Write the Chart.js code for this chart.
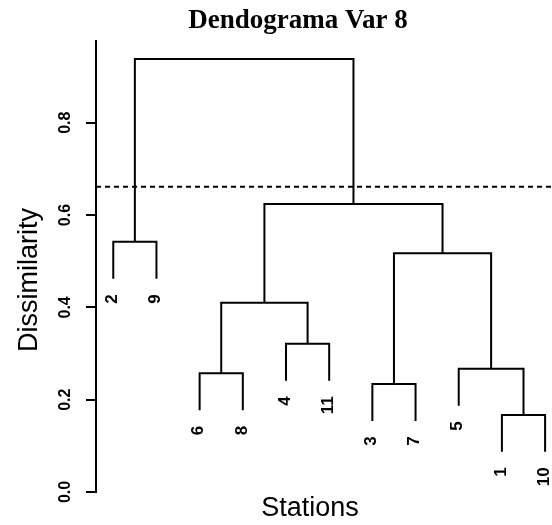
<!DOCTYPE html>
<html>
<head>
<meta charset="utf-8">
<script src="https://cdn.jsdelivr.net/npm/chart.js@4/dist/chart.umd.min.js"></script>
<style>
  html, body { margin: 0; padding: 0; background: #fff; }
  canvas { display: block; }
</style>
</head>
<body>
<canvas id="dendro" width="552" height="525"></canvas>
<script>
// Station order along the horizontal axis (leaf order of the tree)
const leafOrder = [2, 9, 6, 8, 4, 11, 3, 7, 5, 1, 10];

// hclust-style merge table: negative = station number, positive = earlier merge (1-based)
const mergeLeft   = [-1, -3, -6, -5, -4, 3, 2, -2, 6, 8];
const mergeRight  = [-10, -7, -8, 1, -11, 5, 4, -9, 7, 9];
const mergeHeight = [0.167, 0.234, 0.257, 0.267, 0.321, 0.410, 0.517, 0.542, 0.624, 0.938];

// Cut level drawn as a dotted line
const cutHeight = 0.661;

// How far each leaf hangs below the merge it belongs to
const hang = 0.08;

// Dissimilarity axis ticks
const yTicks = [0.0, 0.2, 0.4, 0.6, 0.8];

// ---- derive node positions from the merge table ----
const leafPos = {};
leafOrder.forEach((s, i) => { leafPos[s] = i + 1; });
const mergeX = [];
const leafEnd = {};
function nodeX(id) { return id < 0 ? leafPos[-id] : mergeX[id - 1]; }
function nodeY(id, parentH) {
  if (id < 0) { leafEnd[-id] = parentH - hang; return parentH - hang; }
  return mergeHeight[id - 1];
}
const datasets = [];
mergeHeight.forEach((h, k) => {
  const a = mergeLeft[k], b = mergeRight[k];
  const xa = nodeX(a), xb = nodeX(b);
  const ya = nodeY(a, h), yb = nodeY(b, h);
  mergeX.push((xa + xb) / 2);
  datasets.push({
    data: [{x: xa, y: ya}, {x: xa, y: h}, {x: xb, y: h}, {x: xb, y: yb}],
    borderColor: '#000', borderWidth: 2, pointRadius: 0, tension: 0, fill: false
  });
});

const xMin = 0.6, xMax = 11.16, yMax = 0.977;

datasets.push({
  data: [{x: xMin, y: cutHeight}, {x: xMax, y: cutHeight}],
  borderColor: '#000', borderWidth: 2, borderDash: [5, 4],
  pointRadius: 0, tension: 0, fill: false
});

// Title, axis titles and station labels
const textPlugin = {
  id: 'dendroText',
  afterDraw(chart) {
    const {ctx} = chart;
    const xs = chart.scales.x, ys = chart.scales.y;
    ctx.save();
    ctx.fillStyle = '#000';

    ctx.font = 'bold 17px "Liberation Sans", Arial, sans-serif';
    ctx.textAlign = 'right';
    ctx.textBaseline = 'middle';
    leafOrder.forEach(s => {
      const px = xs.getPixelForValue(leafPos[s]) - 1;
      const py = ys.getPixelForValue(leafEnd[s]) + 15.5;
      ctx.save();
      ctx.translate(px, py);
      ctx.rotate(-Math.PI / 2);
      ctx.fillText(String(s), 0, 0);
      ctx.restore();
    });

    ctx.font = 'bold 27px "Liberation Serif", "Times New Roman", serif';
    ctx.textAlign = 'center';
    ctx.textBaseline = 'alphabetic';
    ctx.fillText('Dendograma Var 8', 298, 28);

    ctx.font = '27px "Liberation Sans", Arial, sans-serif';
    ctx.fillText('Stations', 310, 516);

    ctx.save();
    ctx.translate(30, 280);
    ctx.rotate(-Math.PI / 2);
    ctx.textBaseline = 'middle';
    ctx.fillText('Dissimilarity', 0, 0);
    ctx.restore();

    ctx.restore();
  }
};

new Chart(document.getElementById('dendro'), {
  type: 'line',
  data: { datasets },
  options: {
    responsive: false,
    animation: false,
    devicePixelRatio: 1,
    layout: { padding: { top: 41, bottom: 33, left: 0, right: 0 } },
    plugins: { legend: { display: false }, tooltip: { enabled: false }, title: { display: false } },
    scales: {
      x: { type: 'linear', min: xMin, max: xMax, display: false },
      y: {
        type: 'linear', min: 0, max: yMax,
        afterFit(scale) { scale.width = 96; },
        afterBuildTicks(scale) { scale.ticks = yTicks.map(v => ({value: v})); },
        border: { display: true, color: '#000', width: 2 },
        grid: { drawOnChartArea: false, drawTicks: true, tickLength: 10, color: '#000', lineWidth: 2 },
        ticks: {
          minRotation: 90, maxRotation: 90, crossAlign: 'center', padding: 9,
          color: '#000',
          font: { family: '"Liberation Sans", Arial, sans-serif', size: 16, weight: 'bold' },
          callback: v => v.toFixed(1)
        }
      }
    }
  },
  plugins: [textPlugin]
});
</script>
</body>
</html>
